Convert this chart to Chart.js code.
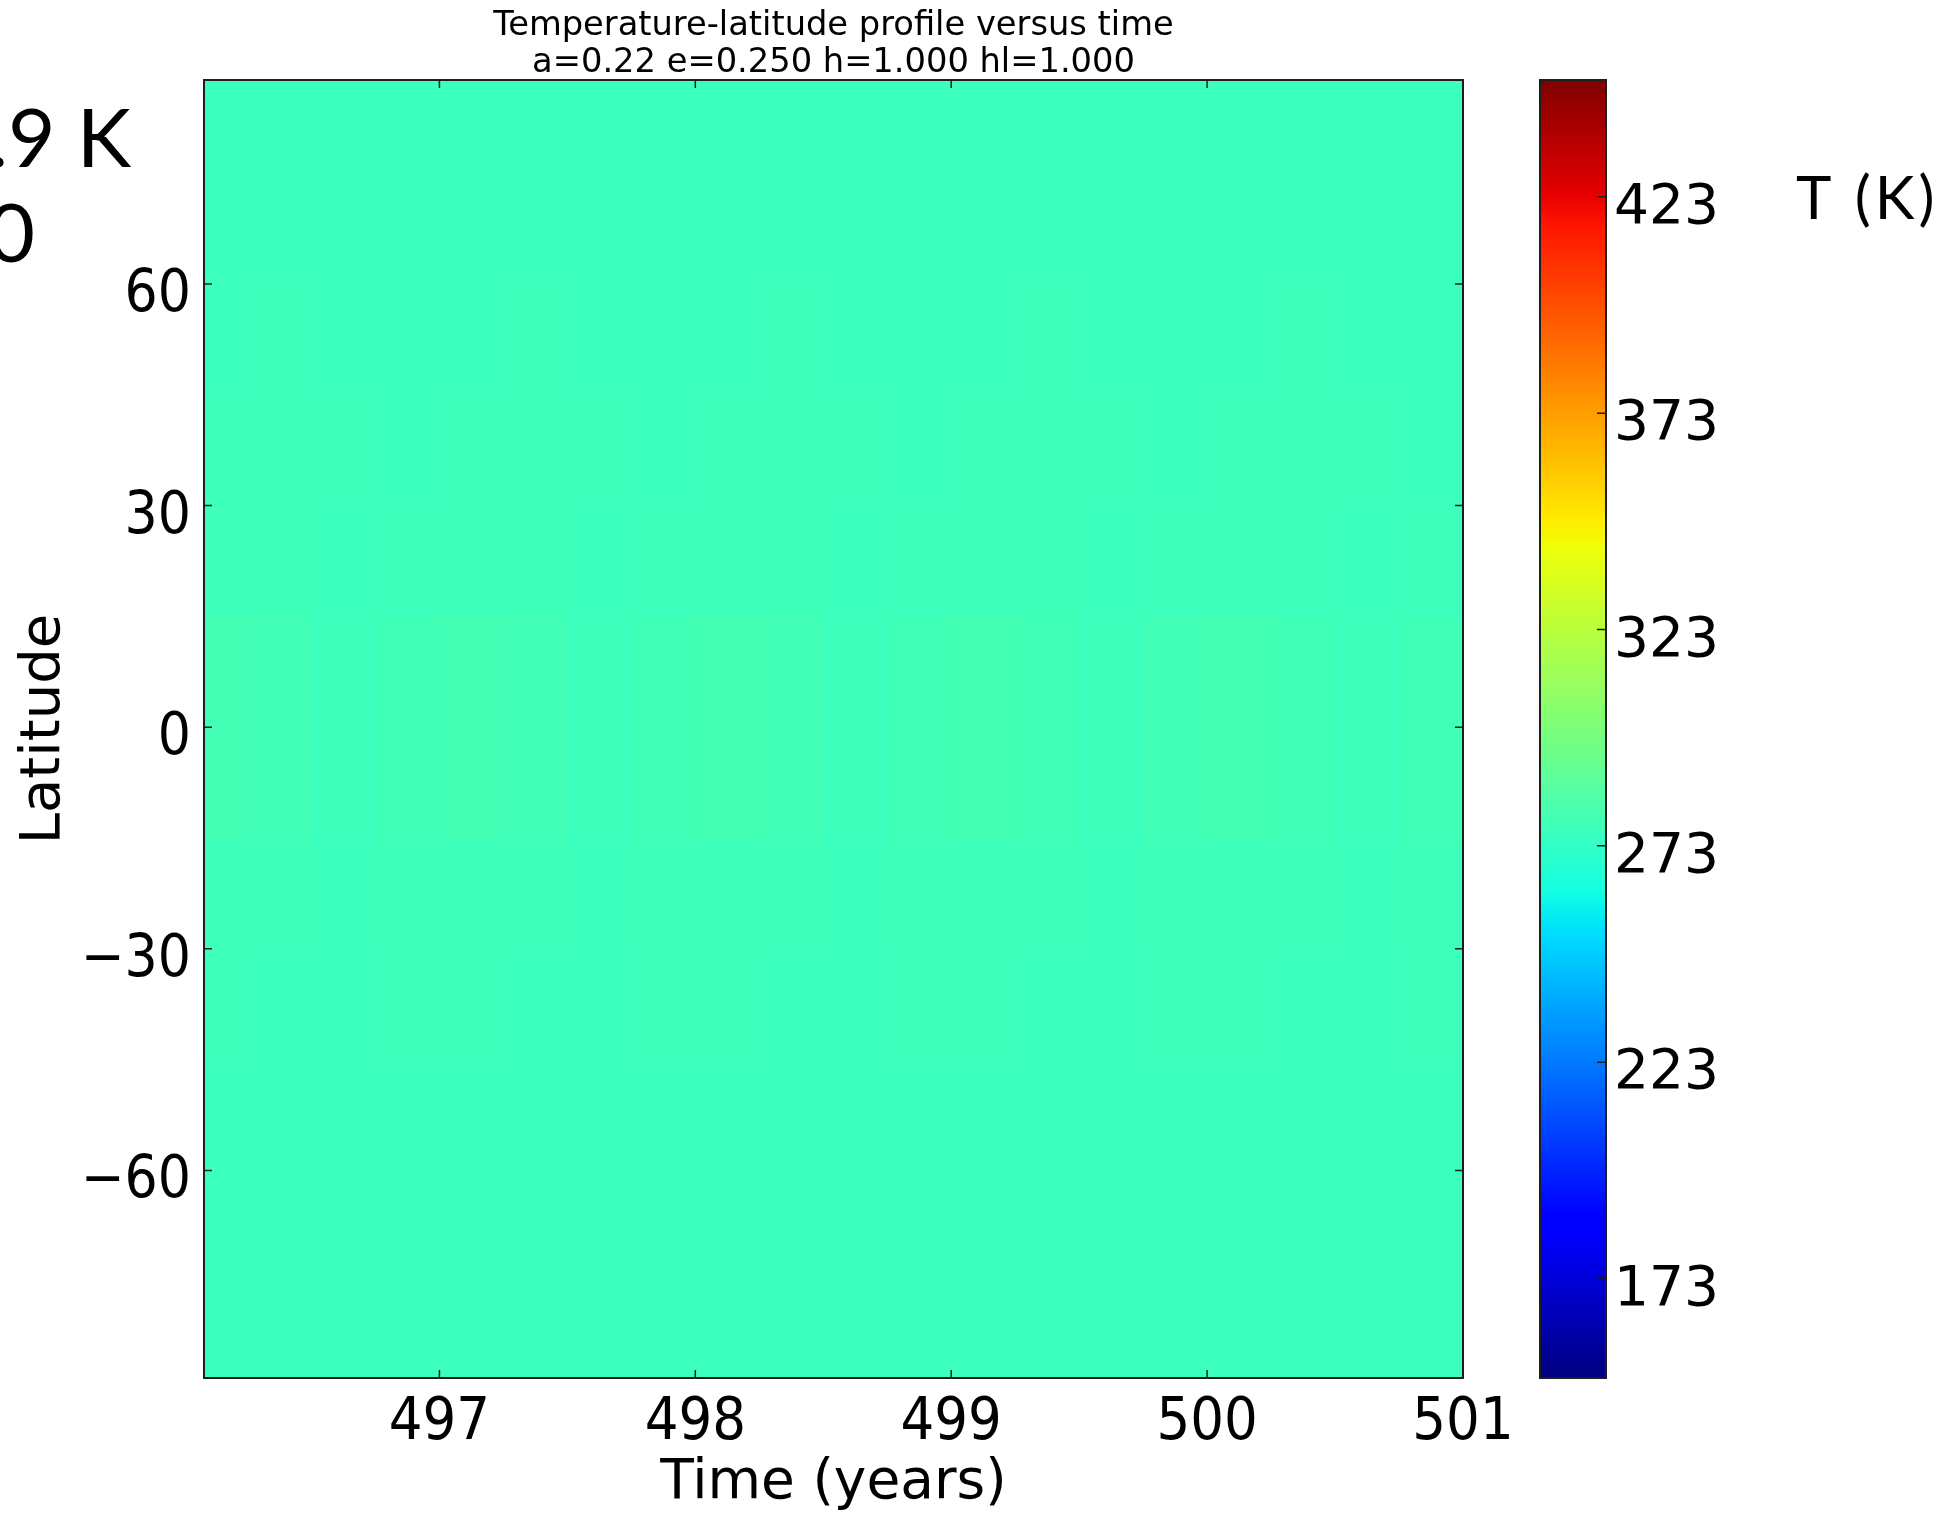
<!DOCTYPE html>
<html>
<head>
<meta charset="utf-8">
<title>Temperature-latitude profile versus time</title>
<script src="https://cdn.jsdelivr.net/npm/chart.js@4.4.1/dist/chart.umd.min.js"></script>
<style>
  html, body { margin: 0; padding: 0; background: #fff; }
  #wrap { width: 1948px; height: 1519px; }
</style>
</head>
<body>
<div id="wrap"><canvas id="profileChart" width="1948" height="1519"></canvas></div>
<script>
// Cell centres of the temperature map (years, degrees)
const times = [496.125, 496.375, 496.625, 496.875, 497.125, 497.375, 497.625, 497.875,
               498.125, 498.375, 498.625, 498.875, 499.125, 499.375, 499.625, 499.875,
               500.125, 500.375, 500.625, 500.875];
const lats = [82.5, 67.5, 52.5, 37.5, 22.5, 7.5, -7.5, -22.5, -37.5, -52.5, -67.5, -82.5];

// Temperature (K), one row per latitude band
const temperature = [
  [276.6, 276.6, 276.6, 276.6, 276.6, 276.6, 276.6, 276.6, 276.6, 276.6, 276.6, 276.6, 276.6, 276.6, 276.6, 276.6, 276.6, 276.6, 276.6, 276.6],
  [276.6, 276.6, 276.6, 276.6, 276.6, 276.6, 276.6, 276.6, 276.6, 276.6, 276.6, 276.6, 276.6, 276.6, 276.6, 276.6, 276.6, 276.6, 276.6, 276.6],
  [276.6, 276.7, 276.6, 276.6, 276.6, 276.7, 276.6, 276.6, 276.6, 276.7, 276.6, 276.6, 276.6, 276.7, 276.6, 276.6, 276.6, 276.7, 276.6, 276.6],
  [276.7, 277.0, 276.7, 276.6, 276.7, 277.0, 276.7, 276.6, 276.7, 277.0, 276.7, 276.6, 276.7, 277.0, 276.7, 276.6, 276.7, 277.0, 276.7, 276.6],
  [277.2, 277.0, 276.6, 276.9, 277.2, 277.0, 276.6, 276.9, 277.2, 277.0, 276.6, 276.9, 277.2, 277.0, 276.6, 276.9, 277.2, 276.9, 276.6, 276.9],
  [279.0, 278.7, 276.9, 278.4, 279.1, 278.7, 276.9, 278.5, 279.2, 278.6, 276.9, 278.5, 279.2, 278.5, 276.9, 278.6, 279.2, 278.4, 276.9, 278.5],
  [279.0, 278.7, 276.9, 278.4, 279.1, 278.7, 276.9, 278.5, 279.2, 278.6, 276.9, 278.5, 279.2, 278.5, 276.9, 278.6, 279.2, 278.4, 276.9, 278.5],
  [277.6, 277.3, 276.6, 277.1, 277.6, 277.3, 276.6, 277.1, 277.6, 277.2, 276.6, 277.1, 277.6, 277.2, 276.6, 277.1, 277.6, 277.2, 276.6, 277.1],
  [276.8, 276.6, 276.6, 276.8, 276.8, 276.6, 276.6, 276.8, 276.8, 276.6, 276.6, 276.8, 276.8, 276.6, 276.6, 276.8, 276.8, 276.6, 276.6, 276.8],
  [276.6, 276.6, 276.6, 276.6, 276.6, 276.6, 276.6, 276.6, 276.6, 276.6, 276.6, 276.6, 276.6, 276.6, 276.6, 276.6, 276.6, 276.6, 276.6, 276.6],
  [276.6, 276.6, 276.6, 276.6, 276.6, 276.6, 276.6, 276.6, 276.6, 276.6, 276.6, 276.6, 276.6, 276.6, 276.6, 276.6, 276.6, 276.6, 276.6, 276.6],
  [276.6, 276.6, 276.6, 276.6, 276.6, 276.6, 276.6, 276.6, 276.6, 276.6, 276.6, 276.6, 276.6, 276.6, 276.6, 276.6, 276.6, 276.6, 276.6, 276.6]
];

const timeTicks = [497, 498, 499, 500, 501];
const latTicks = [-60, -30, 0, 30, 60];
const tempTicks = [173, 223, 273, 323, 373, 423];
const timeRange = [496.08, 501];
const latRange = [-88.1, 87.6];
const tempRange = [150, 450];

// matplotlib "jet" colour map
const jetRed = [[0, 0], [0.35, 0], [0.66, 1], [0.89, 1], [1, 0.5]];
const jetGreen = [[0, 0], [0.125, 0], [0.375, 1], [0.64, 1], [0.91, 0], [1, 0]];
const jetBlue = [[0, 0.5], [0.11, 1], [0.34, 1], [0.65, 0], [1, 0]];

function segment(stops, f) {
  for (let k = 1; k < stops.length; k++) {
    if (f <= stops[k][0]) {
      const [f0, v0] = stops[k - 1];
      const [f1, v1] = stops[k];
      return v0 + (v1 - v0) * (f - f0) / (f1 - f0);
    }
  }
  return stops[stops.length - 1][1];
}

function jet(value) {
  let f = (value - tempRange[0]) / (tempRange[1] - tempRange[0]);
  f = Math.min(1, Math.max(0, f));
  const c = [jetRed, jetGreen, jetBlue].map(s => Math.round(segment(s, f) * 255));
  return 'rgb(' + c[0] + ',' + c[1] + ',' + c[2] + ')';
}

// cell borders half way between centres
function edges(centers) {
  const e = [centers[0] - (centers[1] - centers[0]) / 2];
  for (let i = 1; i < centers.length; i++) e.push((centers[i - 1] + centers[i]) / 2);
  const n = centers.length;
  e.push(centers[n - 1] + (centers[n - 1] - centers[n - 2]) / 2);
  return e;
}

const cells = [];
lats.forEach((lat, j) => {
  times.forEach((t, i) => {
    cells.push({ x: t, y: lat, v: temperature[j][i], i: i, j: j });
  });
});

const FONT = 'DejaVu Sans';
const TICK_FONT = '"DejaVu Sans Condensed", "DejaVu Sans"';
Chart.defaults.color = '#000';
Chart.defaults.font.family = FONT;

// tick labels must not push the plot area in
function noLabelPadding(s) {
  s.paddingTop = 0;
  s.paddingBottom = 0;
  s.paddingLeft = 0;
  s.paddingRight = 0;
}

// Heat map cells
const heatmapPlugin = {
  id: 'heatmap',
  beforeDatasetsDraw(chart) {
    const { ctx, chartArea: a, scales } = chart;
    const tx = edges(times);
    const ly = edges(lats);
    ctx.save();
    ctx.beginPath();
    ctx.rect(a.left, a.top, a.right - a.left, a.bottom - a.top);
    ctx.clip();
    chart.data.datasets[0].data.forEach(p => {
      const x0 = Math.round(scales.x.getPixelForValue(tx[p.i]));
      const x1 = Math.round(scales.x.getPixelForValue(tx[p.i + 1]));
      const y0 = Math.round(scales.y.getPixelForValue(ly[p.j]));
      const y1 = Math.round(scales.y.getPixelForValue(ly[p.j + 1]));
      ctx.fillStyle = jet(p.v);
      ctx.fillRect(x0, Math.min(y0, y1), x1 - x0, Math.abs(y1 - y0));
    });
    ctx.restore();
  }
};

// Frame, inward ticks and the colour bar
const framePlugin = {
  id: 'frame',
  afterDraw(chart) {
    const { ctx, chartArea: a, scales } = chart;
    ctx.save();
    ctx.strokeStyle = '#1e1e1e';
    ctx.lineWidth = 1.5;
    ctx.beginPath();
    timeTicks.forEach(v => {
      const px = scales.x.getPixelForValue(v);
      ctx.moveTo(px, a.bottom); ctx.lineTo(px, a.bottom - 8);
      ctx.moveTo(px, a.top); ctx.lineTo(px, a.top + 8);
    });
    latTicks.forEach(v => {
      const py = scales.y.getPixelForValue(v);
      ctx.moveTo(a.left, py); ctx.lineTo(a.left + 8, py);
      ctx.moveTo(a.right, py); ctx.lineTo(a.right - 8, py);
    });
    ctx.stroke();
    ctx.lineWidth = 2;
    ctx.strokeRect(a.left, a.top, a.right - a.left, a.bottom - a.top);

    // colour bar
    const cb = scales.cb;
    const barLeft = a.right + 77;
    const barWidth = 66;
    for (let v = tempRange[0]; v < tempRange[1]; v++) {
      const yTop = Math.round(cb.getPixelForValue(v + 1));
      const yBot = Math.round(cb.getPixelForValue(v));
      ctx.fillStyle = jet(v + 0.5);
      ctx.fillRect(barLeft, yTop, barWidth, yBot - yTop);
    }
    ctx.lineWidth = 1.5;
    ctx.beginPath();
    tempTicks.forEach(v => {
      const py = cb.getPixelForValue(v);
      ctx.moveTo(barLeft + barWidth, py); ctx.lineTo(barLeft + barWidth - 9, py);
    });
    ctx.stroke();
    ctx.lineWidth = 2;
    ctx.strokeRect(barLeft, cb.top, barWidth, cb.bottom - cb.top);

    // colour bar unit and the cut-off slide text on the left
    ctx.fillStyle = '#000';
    ctx.textBaseline = 'alphabetic';
    ctx.font = '60px Lato';
    ctx.textAlign = 'left';
    ctx.letterSpacing = '4px';
    ctx.fillText('T (K)', 1796, 219);
    ctx.letterSpacing = '0px';
    ctx.font = '82px Lato';
    ctx.textAlign = 'right';
    ctx.fillText('.9 K', 131, 167);
    ctx.fillText('0', 35, 262);
    ctx.restore();
  }
};

new Chart(document.getElementById('profileChart'), {
  type: 'scatter',
  data: {
    datasets: [{
      label: 'T (K)',
      data: cells,
      pointRadius: 0,
      pointHoverRadius: 0
    }]
  },
  options: {
    responsive: false,
    animation: false,
    events: [],
    layout: { padding: { top: 2, left: 0, right: 0, bottom: 0 } },
    plugins: {
      legend: { display: false },
      tooltip: { enabled: false },
      title: {
        display: true,
        fullSize: false,
        text: ['Temperature-latitude profile versus time', 'a=0.22 e=0.250 h=1.000 hl=1.000'],
        font: { family: FONT, size: 33.7, weight: 'normal', lineHeight: '37px' },
        color: '#000',
        padding: { top: 6, bottom: -2 }
      }
    },
    scales: {
      x: {
        type: 'linear',
        position: 'bottom',
        min: timeRange[0],
        max: timeRange[1],
        grid: { display: false },
        border: { display: false },
        afterBuildTicks: s => { s.ticks = timeTicks.map(v => ({ value: v })); },
        afterFit: s => { s.height = 141; noLabelPadding(s); },
        ticks: { font: { family: TICK_FONT, size: 59 }, padding: 2, maxRotation: 0, autoSkip: false },
        title: { display: true, text: 'Time (years)', font: { size: 55 }, padding: { top: 0, bottom: 2 } }
      },
      y: {
        type: 'linear',
        position: 'left',
        min: latRange[0],
        max: latRange[1],
        grid: { display: false },
        border: { display: false },
        afterBuildTicks: s => { s.ticks = latTicks.map(v => ({ value: v })); },
        afterFit: s => { s.width = 204; noLabelPadding(s); },
        ticks: {
          font: { family: TICK_FONT, size: 58 }, padding: 5, labelOffset: 12, autoSkip: false,
          callback: v => String(v).replace('-', '\u2212')
        },
        title: { display: true, text: 'Latitude', font: { size: 56 }, padding: { top: 11, bottom: 0 } }
      },
      cb: {
        type: 'linear',
        position: 'right',
        min: tempRange[0],
        max: tempRange[1],
        grid: { display: false },
        border: { display: false },
        afterBuildTicks: s => { s.ticks = tempTicks.map(v => ({ value: v })); },
        afterFit: s => { s.width = 485; noLabelPadding(s); },
        ticks: { font: { size: 55 }, padding: 143, labelOffset: 12, autoSkip: false }
      }
    }
  },
  plugins: [heatmapPlugin, framePlugin]
});
</script>
</body>
</html>
